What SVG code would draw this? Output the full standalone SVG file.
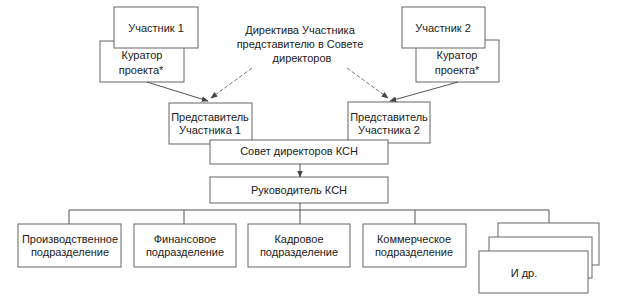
<svg xmlns="http://www.w3.org/2000/svg" width="621" height="297" viewBox="0 0 621 297">
<defs>
<style>
.b{fill:#fff;stroke:#666;stroke-width:1}
.t{font-family:"Liberation Sans",Arial,sans-serif;font-size:11px;fill:#222;text-anchor:middle}
.c{stroke:#555;stroke-width:1;fill:none}
.d{stroke:#777;stroke-width:1;fill:none;stroke-dasharray:4,2}
</style>
<marker id="ah" viewBox="0 0 10 10" refX="9" refY="5" markerWidth="7" markerHeight="7" orient="auto-start-reverse" markerUnits="userSpaceOnUse">
<path d="M0,1 L10,5 L0,9 z" fill="#444"/>
</marker>
</defs>
<rect width="621" height="297" fill="#fff"/>
<g id="directive">
<text class="t" x="300" y="34">Директива Участника</text>
<text class="t" x="300" y="48">представителю в Совете</text>
<text class="t" x="302" y="62">директоров</text>
</g>
<g id="curator1"><rect class="b" x="100" y="41" width="84" height="41"/>
<text class="t" x="142" y="59">Куратор</text><text class="t" x="141" y="74">проекта*</text></g>
<g id="member1"><rect class="b" x="114" y="7" width="84" height="41"/>
<text class="t" x="156" y="32">Участник 1</text></g>
<g id="curator2"><rect class="b" x="416" y="40" width="83" height="42"/>
<text class="t" x="457" y="59">Куратор</text><text class="t" x="457" y="74">проекта*</text></g>
<g id="member2"><rect class="b" x="402" y="7" width="83" height="41"/>
<text class="t" x="443" y="32">Участник 2</text></g>
<g id="rep1"><rect class="b" x="169" y="103" width="83" height="41"/>
<text class="t" x="210" y="121">Представитель</text><text class="t" x="210" y="134">Участника 1</text></g>
<g id="rep2"><rect class="b" x="348" y="102" width="82" height="41"/>
<text class="t" x="389" y="121">Представитель</text><text class="t" x="389" y="134">Участника 2</text></g>
<g id="board"><rect class="b" x="210" y="140" width="178" height="24"/>
<text class="t" x="299" y="155">Совет директоров КСН</text></g>
<g id="head"><rect class="b" x="210" y="177" width="178" height="26"/>
<text class="t" x="299" y="194">Руководитель КСН</text></g>
<g id="prod"><rect class="b" x="18" y="224" width="103" height="43"/>
<text class="t" x="70" y="243">Производственное</text><text class="t" x="70" y="256">подразделение</text></g>
<g id="fin"><rect class="b" x="134" y="224" width="102" height="43"/>
<text class="t" x="185" y="243">Финансовое</text><text class="t" x="185" y="256">подразделение</text></g>
<g id="hr"><rect class="b" x="248" y="224" width="102" height="43"/>
<text class="t" x="299" y="243">Кадровое</text><text class="t" x="299" y="256">подразделение</text></g>
<g id="comm"><rect class="b" x="363" y="224" width="103" height="43"/>
<text class="t" x="414" y="243">Коммерческое</text><text class="t" x="414" y="256">подразделение</text></g>
<g id="other">
<rect class="b" x="498" y="223" width="101" height="42"/>
<rect class="b" x="489" y="237" width="103" height="41"/>
<rect class="b" x="479" y="251" width="109" height="42"/>
<text class="t" x="524" y="277">И др.</text></g>
<g id="connectors">
<line class="c" x1="147" y1="82" x2="208" y2="101" marker-end="url(#ah)"/>
<line class="d" x1="252" y1="68" x2="211" y2="98" marker-end="url(#ah)"/>
<line class="c" x1="458" y1="82" x2="390" y2="101" marker-end="url(#ah)"/>
<line class="d" x1="347" y1="68" x2="388" y2="98" marker-end="url(#ah)"/>
<line class="c" x1="300" y1="164" x2="300" y2="177" marker-end="url(#ah)"/>
<path class="c" d="M300,203 V210 M69,224 V210 H549 V223 M184,210 V224 M300,210 V224 M415,210 V224"/>
</g>
</svg>
